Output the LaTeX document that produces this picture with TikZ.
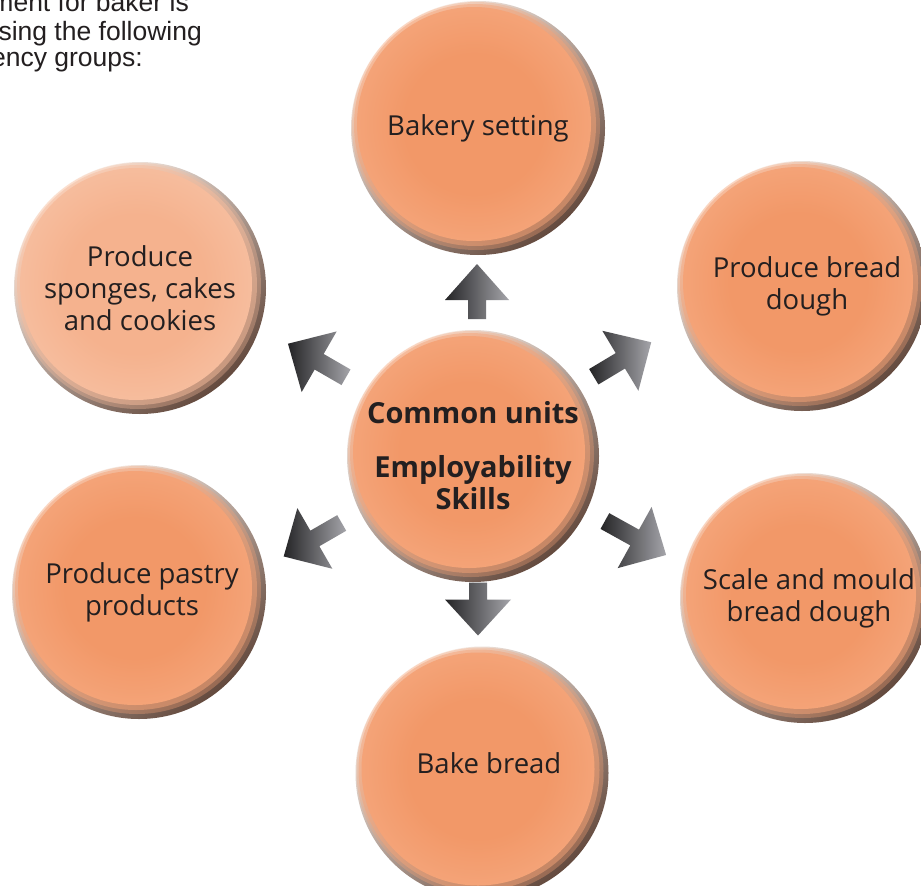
\documentclass[tikz,border=0pt]{standalone}
\usepackage{fontspec}
\setmainfont{Open Sans}
\newfontfamily\arialfont{Liberation Sans}
\usetikzlibrary{calc}
\definecolor{oCore}{RGB}{242,152,104}
\definecolor{oEdge}{RGB}{247,182,146}
\definecolor{pCore}{RGB}{245,178,142}
\definecolor{pEdge}{RGB}{249,206,182}
\definecolor{rimLight}{RGB}{254,242,234}
\definecolor{rimMid}{RGB}{238,165,124}
\definecolor{rimDark}{RGB}{100,74,62}
\definecolor{txt}{RGB}{35,31,32}
\definecolor{arrDark}{RGB}{36,36,38}
\definecolor{arrMid}{RGB}{62,62,66}
\definecolor{arrLight}{RGB}{165,165,170}
\pgfdeclareradialshading{bodyO}{\pgfpoint{0bp}{0bp}}{color(0bp)=(oCore); color(15bp)=(oCore); color(42bp)=(oEdge); color(50bp)=(oEdge)}
\pgfdeclareradialshading{bodyP}{\pgfpoint{0bp}{0bp}}{color(0bp)=(pCore); color(15bp)=(pCore); color(42bp)=(pEdge); color(50bp)=(pEdge)}
\tikzset{
  bubble/.style={circle, minimum size=#1pt, inner sep=0pt, align=center, text=txt,
    font=\fontsize{27.5}{32}\selectfont,
    top color=rimLight, middle color=rimMid, bottom color=rimDark, shading angle=40,
    path picture={
      \shade[shading=\bodyname, opacity=0.35] ($(path picture bounding box.center)+(-2,-2)$) circle[radius=#1/2-3];
      \shade[shading=\bodyname, opacity=0.5] ($(path picture bounding box.center)+(-3,-3)$) circle[radius=#1/2-6];
      \shade[shading=\bodyname] ($(path picture bounding box.center)+(-4,-4)$) circle[radius=#1/2-10];
    }},
  arrowshade/.style={left color=arrDark, middle color=arrMid, right color=arrLight},
}
\def\bodyname{bodyO}
\newcommand\barrow[5]{%
  \begin{scope}[shift={(#1,#2)},rotate=#3]
    \shade[arrowshade] (-#4/2,-9) -- (#4/2-36,-9) -- (#4/2-36,-#5/2) -- (#4/2,0)
      -- (#4/2-36,#5/2) -- (#4/2-36,9) -- (-#4/2,9) -- cycle;
  \end{scope}}
\begin{document}
\begin{tikzpicture}[x=1pt,y=-1pt]
\useasboundingbox (0,0) rectangle (921,886);
\clip (0,0) rectangle (921,886);
\fill[white] (0,0) rectangle (921,886);

% intro text (cut off at the left edge)
\begin{scope}[every node/.style={anchor=base east, inner sep=0pt, text=txt, font=\arialfont\fontsize{26.5}{28}\selectfont}]
\node (t1) at (189,12) {ment for baker is};
\node (t2) at (202,40) {sing the following};
\node (t3) at (143,66) {ency groups:};
\end{scope}

% circles
\node[bubble=254] (bakery) at (478,128) {Bakery setting};
\node[bubble=250] (bread) at (802,286) {\hspace*{10pt}Produce bread\\\hspace*{10pt}dough};
{\def\bodyname{bodyP}
\node[bubble=252] (sponges) at (140,288) {Produce\\sponges, cakes\\and cookies};}
\node[bubble=252, font=\bfseries\fontsize{29}{32}\selectfont] (hub) at (473,456) {Common units\\[22pt]Employability\\Skills};
\node[bubble=254] (pastry) at (139,592) {\hspace*{6pt}Produce pastry\\\hspace*{6pt}products};
\node[bubble=250] (mould) at (805,598) {\hspace*{8pt}Scale and mould\\\hspace*{8pt}bread dough};
\node[bubble=253] (bake) at (482,773) {\hspace*{14pt}Bake bread\\[-12pt]\mbox{}};

% block arrows
\barrow{477}{291.5}{90}{55}{64}
\barrow{478}{609}{-90}{53}{66}
\barrow{622.5}{359.5}{31}{67}{70}
\barrow{317}{360.5}{150}{67}{70}
\barrow{312.7}{539.7}{210}{67}{70}
\barrow{635.5}{538}{-29}{70}{70}
\end{tikzpicture}
\end{document}
